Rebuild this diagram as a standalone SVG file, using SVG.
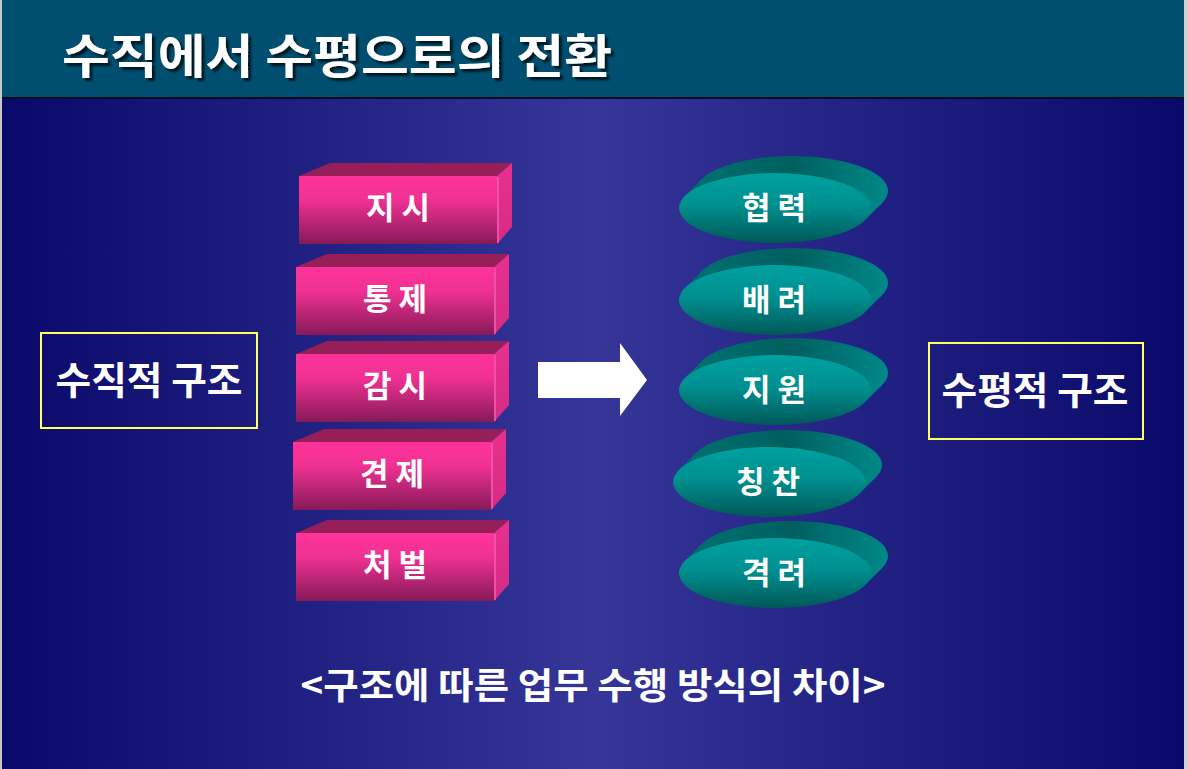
<svg xmlns="http://www.w3.org/2000/svg" width="1188" height="769" viewBox="0 0 1188 769">
<defs>
<linearGradient id="bg" x1="0" y1="0" x2="1" y2="0">
<stop offset="0" stop-color="#09096a"/>
<stop offset="0.5" stop-color="#363698"/>
<stop offset="1" stop-color="#09096a"/>
</linearGradient>
<linearGradient id="pinkFront" x1="0" y1="0" x2="0" y2="1">
<stop offset="0" stop-color="#ff3399"/>
<stop offset="0.35" stop-color="#f03193"/>
<stop offset="1" stop-color="#861a58"/>
</linearGradient>
<linearGradient id="pinkSide" x1="0" y1="0" x2="0" y2="1">
<stop offset="0" stop-color="#e8308f"/>
<stop offset="1" stop-color="#d42c85"/>
</linearGradient>
<linearGradient id="tealFront" x1="0" y1="0" x2="0" y2="1">
<stop offset="0" stop-color="#00a0a0"/>
<stop offset="0.45" stop-color="#009090"/>
<stop offset="1" stop-color="#005858"/>
</linearGradient>
<linearGradient id="tealBack" x1="0" y1="0" x2="1" y2="0">
<stop offset="0" stop-color="#007070"/>
<stop offset="0.5" stop-color="#005f5f"/>
<stop offset="1" stop-color="#008888"/>
</linearGradient>
<filter id="shadow" x="-5%" y="-20%" width="110%" height="150%">
<feDropShadow dx="3" dy="3" stdDeviation="1.2" flood-color="#000000" flood-opacity="0.7"/>
</filter>
<g id="box">
<polygon points="0,0 31,-13 213,-13 198,0" fill="#961f5a"/>
<polygon points="198,0 213,-13 213,51 198,68" fill="url(#pinkSide)"/>
<line x1="199" y1="1" x2="199" y2="67" stroke="#ff66c0" stroke-width="1.2"/>
<rect x="0" y="0" width="198" height="68" fill="url(#pinkFront)"/>
</g>
<g id="disc">
<ellipse cx="17" cy="-17" rx="96" ry="35" fill="url(#tealBack)"/>
<polygon points="-90,-12 -73,-29 107,-5 90,12" fill="url(#tealBack)"/>
<ellipse cx="0" cy="0" rx="96" ry="35" fill="url(#tealFront)"/>
</g>
</defs>
<style>
.t{font-family:"Noto Sans CJK KR","Noto Sans CJK SC",sans-serif;font-weight:bold;fill:#ffffff;text-anchor:middle;}
.lbl{font-size:31px;}
.side{font-size:38px;}
.frame{fill:none;stroke:#ffff66;stroke-width:2;}
</style>
<rect x="0" y="0" width="1188" height="769" fill="url(#bg)"/>
<rect x="0" y="0" width="1188" height="97" fill="#004f70"/>
<rect x="0" y="97" width="1188" height="2" fill="#0a0a20"/>
<rect x="0" y="0" width="2" height="769" fill="#c8c8c8"/>
<rect x="1184" y="0" width="4" height="769" fill="#d0d0d0"/>
<text x="62" y="73" font-family="Noto Sans CJK KR, sans-serif" font-weight="bold" font-size="47" fill="#ffffff" filter="url(#shadow)" textLength="550" lengthAdjust="spacingAndGlyphs">수직에서 수평으로의 전환</text>

<g id="connectors">
<polygon points="538,362 620,362 620,343 647,380 620,416 620,398 538,398" fill="#ffffff"/>
</g>

<g id="vertical">
<rect class="frame" x="41" y="333" width="216" height="95"/>
<text class="t side" x="149" y="394" textLength="187" lengthAdjust="spacingAndGlyphs">수직적 구조</text>
</g>
<g id="horizontal">
<rect class="frame" x="929" y="343" width="214" height="96"/>
<text class="t side" x="1035" y="404" textLength="187" lengthAdjust="spacingAndGlyphs">수평적 구조</text>
</g>

<g id="box-jisi"><use href="#box" x="299" y="176"/><text class="t lbl" x="398" y="219">지 시</text></g>
<g id="box-tongje"><use href="#box" x="296" y="267"/><text class="t lbl" x="395" y="310">통 제</text></g>
<g id="box-gamsi"><use href="#box" x="296" y="354"/><text class="t lbl" x="395" y="397">감 시</text></g>
<g id="box-gyeonje"><use href="#box" x="293" y="442"/><text class="t lbl" x="392" y="485">견 제</text></g>
<g id="box-cheobeol"><use href="#box" x="296" y="533"/><text class="t lbl" x="395" y="576">처 벌</text></g>

<g id="disc-hyeopryeok"><use href="#disc" x="775" y="208"/><text class="t lbl" x="774" y="219">협 력</text></g>
<g id="disc-baeryeo"><use href="#disc" x="775" y="300"/><text class="t lbl" x="774" y="311">배 려</text></g>
<g id="disc-jiwon"><use href="#disc" x="775" y="390"/><text class="t lbl" x="774" y="401">지 원</text></g>
<g id="disc-chingchan"><use href="#disc" x="769" y="482"/><text class="t lbl" x="768" y="493">칭 찬</text></g>
<g id="disc-gyeokryeo"><use href="#disc" x="775" y="573"/><text class="t lbl" x="774" y="584">격 려</text></g>

<text class="t" x="593" y="699" font-size="36" textLength="585" lengthAdjust="spacingAndGlyphs">&lt;구조에 따른 업무 수행 방식의 차이&gt;</text>
</svg>
